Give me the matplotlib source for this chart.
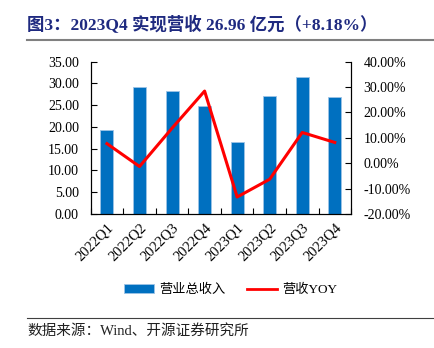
import matplotlib
matplotlib.use("Agg")
import matplotlib.pyplot as plt
from matplotlib.lines import Line2D
from matplotlib.patches import Patch
import numpy as np

plt.rcParams['font.family'] = ['Liberation Serif', 'Noto Sans CJK SC']

quarters = ['2022Q1', '2022Q2', '2022Q3', '2022Q4', '2023Q1', '2023Q2', '2023Q3', '2023Q4']
revenue = [19.2, 29.1, 28.2, 24.9, 16.6, 27.2, 31.5, 26.96]
yoy = [7.7, -1.3, 13.8, 28.4, -13.3, -6.3, 12.1, 8.18]

bar_color = '#0070C0'
line_color = '#FF0000'

fig = plt.figure(figsize=(4.35, 3.48), dpi=100)
ax = fig.add_axes([0.2085, 0.385, 0.5985, 0.438])
x = np.arange(len(quarters))
ax.bar(x, revenue, width=0.4, color=bar_color, edgecolor='#9DC3E6', linewidth=0.6, zorder=2)
ax.set_xlim(-0.5, len(quarters) - 0.5)
ax.set_ylim(0, 35)
ax.set_yticks(np.arange(0, 35.1, 5))
ax.set_yticklabels(['%.2f' % v for v in np.arange(0, 35.1, 5)])
ax.set_xticks(x)
ax.set_xticklabels(quarters, rotation=45, ha='right', rotation_mode='anchor')
ax.set_xticks(np.arange(-0.5, len(quarters), 1), minor=True)
ax.tick_params(axis='x', which='major', length=0, labelsize=10.5, pad=5)
ax.tick_params(axis='x', which='minor', direction='in', length=4, width=0.8)
ax.tick_params(axis='y', direction='in', length=4, width=0.8, labelsize=10, pad=8.5)
ax.spines['top'].set_visible(False)
for s in ['left', 'right', 'bottom']:
    ax.spines[s].set_linewidth(0.8)

ax2 = ax.twinx()
ax2.plot(x, yoy, color=line_color, linewidth=2.2, zorder=3)
ax2.set_ylim(-20, 40)
ax2.set_yticks(np.arange(-20, 40.1, 10))
ax2.set_yticklabels(['%.2f%%' % v for v in np.arange(-20, 40.1, 10)])
ax2.tick_params(axis='y', direction='in', length=4, width=0.8, labelsize=10, pad=9)
ax2.spines['top'].set_visible(False)
ax2.spines['right'].set_linewidth(0.8)

# title and source
fig.text(0.062, 0.928, '图3：2023Q4 实现营收 26.96 亿元（+8.18%）', fontsize=12.5,
         fontweight='bold', color='#1F2A80', va='center', ha='left')
fig.add_artist(Line2D([0.062, 1.0], [0.885, 0.885], color='#808080', linewidth=1.5))
fig.add_artist(Line2D([0.062, 1.0], [0.086, 0.086], color='#404040', linewidth=0.8))
fig.text(0.062, 0.05, '数据来源：Wind、开源证券研究所', fontsize=10.5, color='#202020',
         va='center', ha='left')

handles = [Patch(facecolor=bar_color, edgecolor='#9DC3E6', linewidth=0.6),
           Line2D([0], [0], color=line_color, linewidth=2)]
fig.legend(handles, ['营业总收入', '营收YOY'], loc='center', bbox_to_anchor=(0.53, 0.167),
           ncol=2, frameon=False, fontsize=9.5, handlelength=2.3, handleheight=0.6,
           columnspacing=1.6, handletextpad=0.4)

fig.savefig('out.png', dpi=100)
